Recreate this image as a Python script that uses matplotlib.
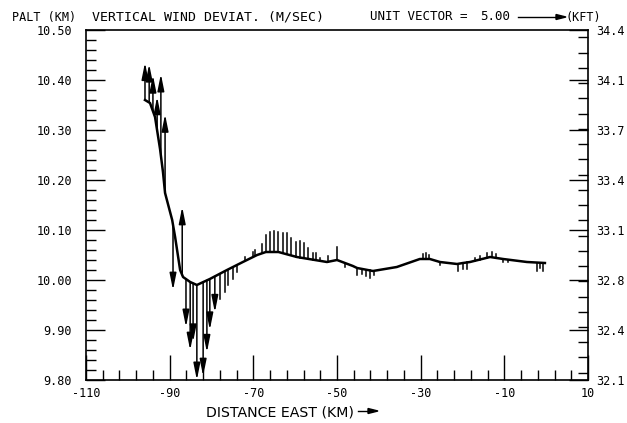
import numpy as np
import matplotlib.pyplot as plt

# flight track: distance east (km) vs pressure altitude (km)
track_x = [-95.9, -94.7, -93.5, -92.3, -91.6, -91.1, -89.4, -88.7, -87.5, -86.8,
           -85.1, -83.5, -80.4, -76.3, -72.5, -69.1, -67.0, -64.0, -59.6, -52.4,
           -50.0, -46.2, -45.2, -41.4, -35.7, -30.2, -27.8, -25.4, -21.3, -19.9,
           -18.2, -13.4, -10.3, -4.6, -0.3]
track_alt = [10.360, 10.354, 10.326, 10.262, 10.216, 10.174, 10.120, 10.086, 10.020, 10.006,
             9.996, 9.990, 10.002, 10.020, 10.036, 10.050, 10.056, 10.056, 10.046, 10.036,
             10.040, 10.028, 10.024, 10.018, 10.026, 10.042, 10.042, 10.036, 10.032, 10.034,
             10.036, 10.046, 10.042, 10.036, 10.034]

# vertical wind deviation vectors (m/s) along the track
vec_x = [-95.9, -94.9, -94.0, -93.0, -92.1, -91.1, -89.2, -87.0, -86.1, -85.1,
         -84.4, -83.5, -82.7, -82.0, -81.1, -80.4, -79.2, -78.0, -76.8, -76.1,
         -74.9, -73.9, -72.0, -70.1, -69.6, -67.9, -67.0, -66.0, -65.1, -64.1,
         -62.9, -62.0, -61.0, -59.8, -58.8, -57.9, -56.9, -55.7, -55.0, -54.1,
         -52.1, -50.0, -48.1, -45.2, -44.0, -43.1, -42.1, -41.1, -29.4, -28.7,
         -28.0, -25.4, -21.1, -19.9, -18.9, -17.0, -15.8, -14.1, -12.9, -12.0,
         -10.3, -9.1, -2.2, -1.5, -0.8]
vec_w = [3.9, 4.0, 3.75, 3.5, 8.5, 8.2, -6.8, 7.1, -5.0, -7.1,
         -6.1, -9.9, -10.2, -9.8, -7.5, -5.3, -3.75, -2.6, -2.2, -1.6,
         -1.25, -0.7, 0.4, 0.5, 0.6, 1.0, 1.8, 2.1, 2.2, 2.1,
         2.1, 2.2, 1.8, 1.5, 1.7, 1.6, 1.1, 0.7, 0.7, 0.3,
         0.6, 1.4, -0.4, -0.7, -0.5, -0.7, -0.8, -0.4, 0.5, 0.6,
         0.4, -0.3, -0.7, -0.6, -0.7, 0.3, 0.4, 0.5, 0.6, 0.4,
         -0.3, -0.2, -0.9, -0.6, -0.8]

x_ticks = [-110, -90, -70, -50, -30, -10, 10]
x_labels = ['-110', '-90', '-70', '-50', '-30', '-10', '10']
km_ticks = [9.8, 9.9, 10.0, 10.1, 10.2, 10.3, 10.4, 10.5]
km_labels = ['9.80', '9.90', '10.00', '10.10', '10.20', '10.30', '10.40', '10.50']
kft_labels = ['32.1', '32.4', '32.8', '33.1', '33.4', '33.7', '34.1', '34.4']

unit_ms = 5.0
unit_km = 0.096          # unit vector length on the altitude axis
km_per_ms = unit_km / unit_ms

W, H = 627, 423
mono = 'DejaVu Sans Mono'

fig = plt.figure(figsize=(W / 100, H / 100), dpi=100)
ax = fig.add_axes([86 / W, 1 - 380 / H, 502 / W, 350 / H])
ax.set_xlim(-110, 10)
ax.set_ylim(9.8, 10.5)

ax.plot(track_x, track_alt, color='black', lw=1.8, zorder=3)

base = np.interp(vec_x, track_x, track_alt)
for x, b, w in zip(vec_x, base, vec_w):
    tip = b + w * km_per_ms
    if abs(w) >= 3:
        ax.annotate('', xy=(x, tip), xytext=(x, b),
                    arrowprops=dict(arrowstyle='-|>,head_length=1.0,head_width=0.2',
                                    lw=1.1, color='black', shrinkA=0, shrinkB=0))
    else:
        ax.plot([x, x], [b, tip], color='black', lw=1.1)

for s in ax.spines.values():
    s.set_linewidth(1.2)

ax.set_xticks(x_ticks)
ax.set_xticklabels(x_labels, fontfamily=mono, fontsize=8.5)
ax.set_xticks(np.arange(-110, 11, 4), minor=True)
ax.set_yticks(km_ticks)
ax.set_yticklabels(km_labels, fontfamily=mono, fontsize=8.5)
ax.set_yticks(np.arange(9.8, 10.501, 0.02), minor=True)
ax.tick_params(which='both', direction='in', top=False, right=False, width=1.0)
ax.tick_params(which='major', length=14)
ax.tick_params(which='minor', length=7)
ax.tick_params(axis='x', which='major', length=18, pad=5)
ax.tick_params(axis='y', which='major', pad=10)

ax2 = ax.twinx()
ax2.set_ylim(9.8, 10.5)
ax2.set_yticks(km_ticks)
ax2.set_yticklabels(kft_labels, fontfamily=mono, fontsize=8.5)
ax2.set_yticks(np.arange(32.2, 34.45, 0.1) * 0.3048, minor=True)
ax2.tick_params(which='both', direction='in', width=1.0)
ax2.tick_params(which='major', length=14, pad=6)
ax2.tick_params(which='minor', length=7)
for s in ax2.spines.values():
    s.set_visible(False)


def fig_arrow(x0, x1, y):
    # thin horizontal arrow in figure pixels
    fig.add_artist(plt.Line2D([x0 / W, (x1 - 9) / W], [1 - y / H, 1 - y / H],
                              color='black', lw=1.0))
    fig.patches.append(plt.Polygon([[(x1 - 10) / W, 1 - (y - 2.5) / H], [x1 / W, 1 - y / H],
                                    [(x1 - 10) / W, 1 - (y + 2.5) / H]],
                                   closed=True, color='black', transform=fig.transFigure,
                                   figure=fig))


fig.text(206 / W, 1 - 412 / H, 'DISTANCE EAST (KM)', fontsize=10.2, va='center')
fig_arrow(358, 378, 411)

hy = 17
fig.text(12 / W, 1 - hy / H, 'PALT (KM)', fontfamily=mono, fontsize=8.5, va='center')
fig.text(92 / W, 1 - hy / H, 'VERTICAL WIND DEVIAT. (M/SEC)', fontfamily=mono, fontsize=9.5,
         va='center')
fig.text(370 / W, 1 - hy / H, 'UNIT VECTOR =', fontfamily=mono, fontsize=9, va='center')
fig.text(480 / W, 1 - hy / H, '%.2f' % unit_ms, fontfamily=mono, fontsize=9, va='center')
fig.text(566 / W, 1 - hy / H, '(KFT)', fontfamily=mono, fontsize=8.5, va='center')
fig_arrow(518, 566, hy)

fig.savefig('out.png', dpi=100)
